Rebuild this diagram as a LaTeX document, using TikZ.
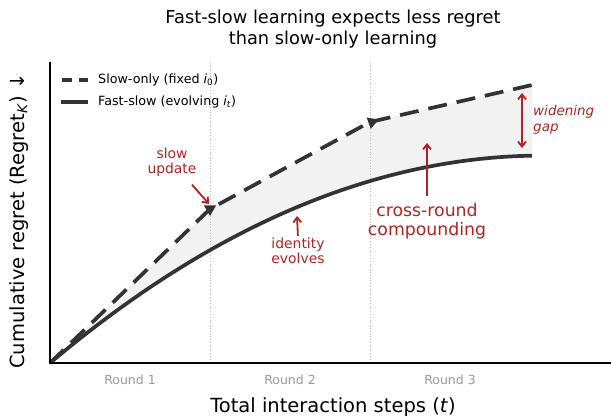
\documentclass[tikz,border=0pt]{standalone}
\usepackage{fontspec}
\setmainfont{DejaVu Sans}
\usepackage{tikz}
\usetikzlibrary{
	arrows.meta,
	calc,
	positioning,
	shapes.geometric
}
\definecolor{curvegray}{HTML}{333333}
\definecolor{notered}{HTML}{B22222}
\definecolor{roundgray}{HTML}{999999}
\definecolor{gapfill}{HTML}{F2F2F2}
\definecolor{gridgray}{HTML}{BBBBBB}
\tikzset{every path/.append style={>={Straight Barb[length=5pt,width=8pt]}}}
\tikzset{
	slowline/.style={curvegray,line width=3.7pt,dash pattern=on 19pt off 10pt},
	fastline/.style={curvegray,line width=3.7pt},
	axisline/.style={black,line width=1.3pt},
	roundline/.style={gridgray,line width=0.8pt,dotted},
	notearrow/.style={notered,line width=1.8pt,->},
	note/.style={notered,align=center,inner sep=0pt,font=\fontsize{13.9}{15}\selectfont},
	roundlabel/.style={roundgray,font=\fontsize{12.5}{15}\selectfont},
	legendtext/.style={anchor=west,inner sep=0pt,font=\fontsize{12.7}{15}\selectfont},
	updatemark/.style={regular polygon,regular polygon sides=3,fill=curvegray,inner sep=0pt,minimum size=14pt}
}
\newcommand{\tikzNote}[4][]{\node (#3) at #2 [note,#1]{#4};}

\begin{document}
\begin{tikzpicture}[x=1pt,y=-1pt]
	\useasboundingbox (0,0) rectangle (611,417);

	\coordinate (origin) at (50,363);
	\coordinate (ytop) at (50,62);
	\coordinate (xend) at (611,363);

	\coordinate (s0) at (50,363);
	\coordinate (s1) at (210,209);
	\coordinate (s2) at (370,122);
	\coordinate (s3) at (532,85);

	% gap between the two curves
	\fill[gapfill] (s0) -- (s1) -- (s2) -- (s3)
		-- plot[domain=482:0,samples=80] ({50+\x},{363-\x*(0.842-0.000847*\x)}) -- cycle;

	\draw[roundline] (210,62) -- (210,363);
	\draw[roundline] (370,62) -- (370,363);

	\draw[slowline] (s0) -- (s1) -- (s2) -- (s3);
	\draw[fastline] plot[domain=0:482,samples=80] ({50+\x},{363-\x*(0.842-0.000847*\x)});

	\node (upd1) at (210,209) [updatemark,shape border rotate=180] {};
	\node (upd2) at (372,122) [updatemark,shape border rotate=-70] {};

	\draw[axisline] (ytop) -- (origin) -- (xend);

	\node (title) at (333,29) [align=center,font=\fontsize{17.8}{21}\selectfont] {Fast-slow learning expects less regret\\than slow-only learning};
	\node (xlabel) at (333,407) [font=\fontsize{19.5}{23}\selectfont] {Total interaction steps (\textit{t})};
	\node (ylabel) at (19,221) [rotate=90,font=\fontsize{19.5}{23}\selectfont] {Cumulative regret (Regret\textsubscript{\textit{K}}) ↓};

	\foreach \i/\rx in {1/130,2/290,3/450}
		\node (round\i) at (\rx,380) [roundlabel] {Round \i};

	\node (legslow) at (98,80) [legendtext] {Slow-only (fixed \textit{i}\textsubscript{0})};
	\node (legfast) at (98,102) [legendtext] {Fast-slow (evolving \textit{i}\textsubscript{\textit{t}})};
	\draw[slowline,dash pattern=on 10pt off 7pt] ([xshift=-36pt]legslow.west) -- ([xshift=-10pt]legslow.west);
	\draw[fastline] ([xshift=-37pt]legfast.west) -- ([xshift=-10pt]legfast.west);

	% notes
	\tikzNote{(172,162)}{slow}{slow\\update}
	\tikzNote{(298,251)}{identity}{identity\\evolves}
	\tikzNote[font=\fontsize{17.3}{19}\selectfont]{(427,221)}{cross}{cross-round\\compounding}
	\tikzNote[anchor=west,align=left,font=\fontsize{13.5}{16}\selectfont\itshape]{(533,120)}{gap}{widening\\gap}

	\coordinate (slowtip) at (209,204);
	\coordinate (idtip) at (297,216);
	\coordinate (crosstip) at (427,143);
	\coordinate (gaptop) at (522,93);
	\coordinate (gapbot) at (522,148);

	\draw[notearrow,shorten <=11pt] (slow) -- (slowtip);
	\draw[notearrow,shorten <=2pt] (identity.north) -- (idtip);
	\draw[notearrow,shorten <=7pt] (cross.north) -- (crosstip);
	\draw[notearrow,<->] (gaptop) -- (gapbot);
\end{tikzpicture}
\end{document}
